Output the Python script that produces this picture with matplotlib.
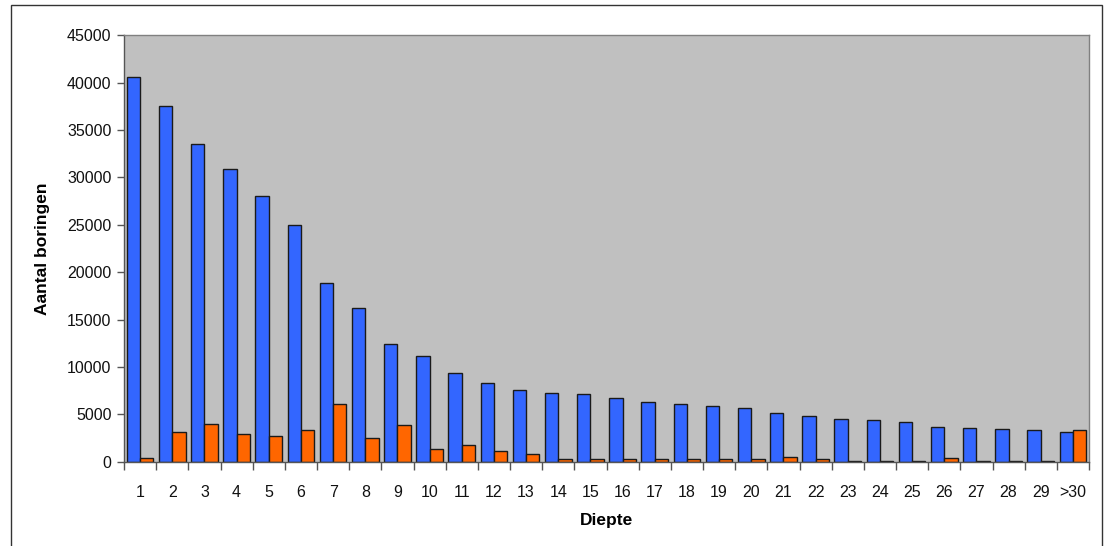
import matplotlib
matplotlib.use("Agg")
import matplotlib.pyplot as plt
from matplotlib.patches import Rectangle
import numpy as np

plt.rcParams['font.family'] = ['Liberation Sans', 'DejaVu Sans']

categories = [str(i) for i in range(1, 30)] + ['>30']
blue_values = [40600, 37550, 33550, 30840, 28060, 24930, 18840, 16230, 12400, 11160,
               9360, 8270, 7560, 7280, 7170, 6750, 6330, 6080, 5910, 5630,
               5100, 4820, 4540, 4400, 4160, 3700, 3590, 3450, 3310, 3170]
orange_values = [390, 3165, 3977, 2880, 2740, 3300, 6050, 2460, 3830, 1370,
                 1790, 1090, 810, 280, 280, 250, 250, 250, 250, 250,
                 490, 250, 60, 60, 60, 390, 60, 60, 60, 3310]
y_ticks = list(range(0, 45001, 5000))

fig = plt.figure(figsize=(11.05, 5.46), dpi=100)
fig.patch.set_facecolor('white')
fig.add_artist(Rectangle((10.5/1105, -0.05), 1091/1105, 1.05 - 5.5/546, transform=fig.transFigure,
                         fill=False, edgecolor='#333333', linewidth=1.0))

ax = fig.add_axes([124/1105, 1 - 461.7/546, 965/1105, 426.5/546])
ax.set_facecolor('#C0C0C0')

x = np.arange(len(categories))
w = 0.415
ax.bar(x - w/2, blue_values, width=w, color='#3366FF', edgecolor='#1a1a1a', linewidth=1.0, zorder=2)
ax.bar(x + w/2, orange_values, width=w, color='#FF6600', edgecolor='#1a1a1a', linewidth=1.0, zorder=2)

ax.set_xlim(-0.5, len(categories) - 0.5)
ax.set_ylim(0, 45000)
ax.set_yticks(y_ticks)
ax.set_yticklabels([str(v) for v in y_ticks], fontsize=11.5, color='#111111')
ax.set_xticks(x)
ax.set_xticklabels(categories, fontsize=11.5, color='#111111')
ax.set_xticks(np.arange(-0.5, len(categories)), minor=True)
ax.tick_params(axis='x', which='major', length=0, pad=17)
ax.tick_params(axis='x', which='minor', length=5.5, width=1, color='#555555', direction='out')
ax.tick_params(axis='y', which='major', length=5, width=1, color='#555555', direction='out', pad=4)

for s in ['top', 'right']:
    ax.spines[s].set_color('#808080')
    ax.spines[s].set_linewidth(1)
for s in ['left', 'bottom']:
    ax.spines[s].set_color('#555555')
    ax.spines[s].set_linewidth(1)

ax.set_ylabel('Aantal boringen', fontsize=12.5, fontweight='bold', labelpad=12)
ax.set_xlabel('Diepte', fontsize=12.5, fontweight='bold', labelpad=9)

fig.savefig('out.png', dpi=100)
